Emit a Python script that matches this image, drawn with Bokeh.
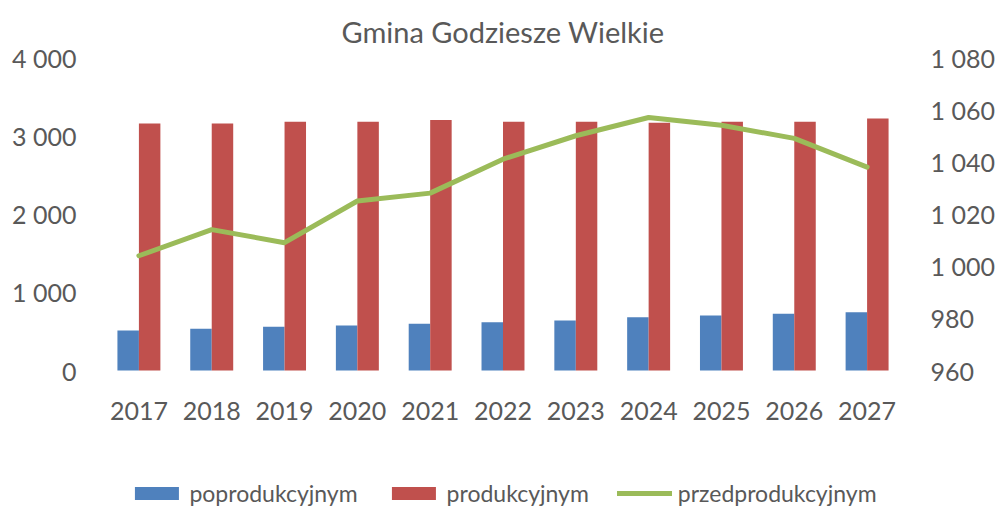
from bokeh.plotting import figure
from bokeh.models import (FactorRange, Range1d, LinearAxis, FixedTicker, Legend,
                          LegendItem, ColumnDataSource)
from bokeh.transform import dodge
from bokeh.embed import file_html
from bokeh.resources import INLINE

# ---- data ----
years = ["2017", "2018", "2019", "2020", "2021", "2022", "2023", "2024", "2025", "2026", "2027"]
poprodukcyjnym = [511, 532, 558, 574, 596, 617, 638, 680, 702, 724, 744]
produkcyjnym = [3157, 3157, 3179, 3179, 3200, 3179, 3179, 3166, 3179, 3179, 3221]
przedprodukcyjnym = [1004, 1014, 1009, 1025, 1028, 1041, 1050, 1057, 1054, 1049, 1038]

left_ticks = [0, 1000, 2000, 3000, 4000]
left_labels = ["0", "1 000", "2 000", "3 000", "4 000"]
right_ticks = [960, 980, 1000, 1020, 1040, 1060, 1080]
right_labels = ["960", "980", "1 000", "1 020", "1 040", "1 060", "1 080"]

title_text = "Gmina Godziesze Wielkie"
names = ["poprodukcyjnym", "produkcyjnym", "przedprodukcyjnym"]

BLUE = "#4F81BD"
RED = "#C0504D"
GREEN = "#9BBB59"
TXT = "#595959"
FONT = "Lato"
FS = "25px"

# layout: the plotted band (0..4000) is 313 px tall; 137 px of frame below it hold
# the x labels and the legend, so the ranges are extended downward accordingly
BAND_PX = 313
EXTRA_PX = 137
left_lo, left_hi = 0, 4000
right_lo, right_hi = 960, 1080
left_pad = (left_hi - left_lo) * EXTRA_PX / BAND_PX
right_pad = (right_hi - right_lo) * EXTRA_PX / BAND_PX

src = ColumnDataSource(dict(years=years, po=poprodukcyjnym, pro=produkcyjnym,
                            przed=przedprodukcyjnym))

p = figure(x_range=FactorRange(*years, range_padding=0),
           y_range=Range1d(left_lo - left_pad, left_hi),
           frame_width=801, frame_height=BAND_PX + EXTRA_PX,
           min_border_left=102, min_border_right=92, min_border_top=57, min_border_bottom=0,
           output_backend="svg", toolbar_location=None, title=title_text)
p.extra_y_ranges = {"right": Range1d(right_lo - right_pad, right_hi)}

bw = 0.295
r1 = p.vbar(x=dodge("years", -bw / 2, range=p.x_range), top="po", width=bw, source=src,
            fill_color=BLUE, line_color=None)
r2 = p.vbar(x=dodge("years", bw / 2, range=p.x_range), top="pro", width=bw, source=src,
            fill_color=RED, line_color=None)
r3 = p.line(x="years", y="przed", source=src, y_range_name="right",
            line_color=GREEN, line_width=5, line_join="round", line_cap="round")

# title
p.title.align = "center"
p.title.text_font = FONT
p.title.text_font_size = "29px"
p.title.text_font_style = "normal"
p.title.text_color = TXT
p.title.standoff = 18

# axes
def style_axis(ax, standoff):
    ax.axis_line_color = None
    ax.major_tick_line_color = None
    ax.minor_tick_line_color = None
    ax.major_tick_out = 0
    ax.major_tick_in = 0
    ax.major_label_standoff = standoff
    ax.major_label_text_font = FONT
    ax.major_label_text_font_size = FS
    ax.major_label_text_color = TXT

p.yaxis.ticker = FixedTicker(ticks=left_ticks)
p.yaxis.major_label_overrides = dict(zip(left_ticks, left_labels))
style_axis(p.yaxis[0], 26)
style_axis(p.xaxis[0], 31)
p.xaxis.fixed_location = 0

ax_r = LinearAxis(y_range_name="right", ticker=FixedTicker(ticks=right_ticks))
ax_r.major_label_overrides = dict(zip(right_ticks, right_labels))
style_axis(ax_r, 27)
p.add_layout(ax_r, "right")

p.xgrid.grid_line_color = None
p.ygrid.grid_line_color = None
p.outline_line_color = None

legend = Legend(items=[LegendItem(label=names[0], renderers=[r1]),
                       LegendItem(label=names[1], renderers=[r2]),
                       LegendItem(label=names[2], renderers=[r3])],
                orientation="horizontal", location="bottom_center")
legend.glyph_width = 55
legend.glyph_height = 16
legend.label_standoff = 6
legend.spacing = 28
legend.padding = 0
legend.margin = 0
legend.label_text_font = FONT
legend.label_text_font_size = "23px"
legend.label_text_color = TXT
legend.background_fill_alpha = 0
legend.border_line_color = None
p.add_layout(legend, "center")

open("out.html", "w").write(file_html(p, INLINE))
